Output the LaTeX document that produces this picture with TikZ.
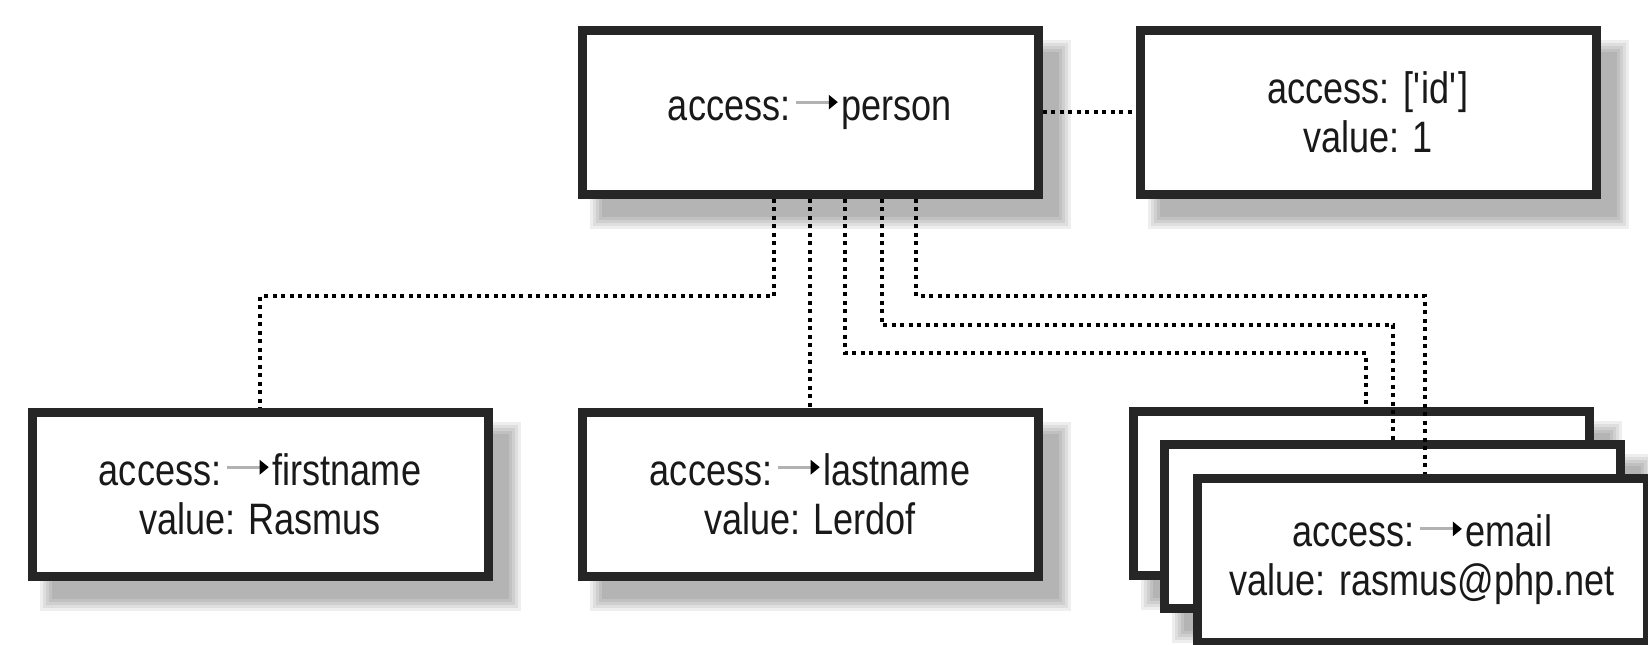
\documentclass[tikz,border=0pt]{standalone}
\usepackage{fontspec}
\usetikzlibrary{calc,backgrounds}
\newfontfamily\boxfontfam{Liberation Sans}[FakeStretch=0.82]
\newcommand\boxfont{\boxfontfam\fontsize{22pt}{24.5pt}\selectfont}
\newcommand\accarrow{\kern2pt\tikz[baseline=0pt]{\draw[black!30,line width=1.5pt] (0pt,9pt)--(17.5pt,9pt); \fill[black] (16.5pt,5.3pt)--(21pt,9pt)--(16.5pt,12.7pt)--cycle;}\kern2pt}
\newcommand\dropshadow[1]{%
  \foreach \d in {-4,-1,2,5,8}{%
    \fill[black,opacity=0.065] ([shift={(20-\d,22-\d)}]#1.north west) rectangle ([shift={(20+\d,22+\d)}]#1.south east);}}
\tikzset{
  box/.style={draw=black!85, line width=4.5pt, fill=white, minimum width=228pt, minimum height=82pt,
    inner sep=0pt, outer sep=2.25pt, align=center, font=\boxfont, text=black!90},
  conn/.style={line width=2pt, dash pattern=on 2pt off 2.25pt, black}
}
\begin{document}
\begin{tikzpicture}[x=0.5pt,y=-0.5pt]
\useasboundingbox (0,0) rectangle (1648,644);
% boxes
\node[box] (person) at (810,112) {access:\accarrow person};
\node[box] (id) at (1368,112) {access: [\textquotesingle id\textquotesingle]\\value: 1};
\node[box] (first) at (260,494) {access:\accarrow firstname\\value: Rasmus};
\node[box] (last) at (810,494) {access:\accarrow lastname\\value: Lerdof};
\node[box] (emA) at (1361,493) {};
\node[box] (emB) at (1392,526) {};
\node[box, minimum width=225pt] (emC) at (1422,560) {access:\accarrow email\\value: rasmus@php.net};
% shadows
\begin{scope}[on background layer]
  \fill[white] (0,0) rectangle (1648,644);
  \dropshadow{person}
  \dropshadow{id}
  \dropshadow{first}
  \dropshadow{last}
  \dropshadow{emA}
  \dropshadow{emB}
  \dropshadow{emC}
\end{scope}
% connectors
\draw[conn] (person.east) -- (id.west);
\coordinate (j1) at (260,296);
\draw[conn] ([xshift=-18pt]person.south) |- (j1) -- (first.north);
\draw[conn] (person.south) -- (last.north);
\coordinate (j3) at (1366,353);
\draw[conn] ([xshift=17.5pt]person.south) |- (j3) -- (j3 |- emA.north);
\coordinate (j4) at (1393,325);
\draw[conn] ([xshift=36pt]person.south) |- (j4) -- (j4 |- emB.north);
\coordinate (j5) at (1425,296);
\draw[conn] ([xshift=53pt]person.south) |- (j5) -- (j5 |- emC.north);
\end{tikzpicture}
\end{document}
